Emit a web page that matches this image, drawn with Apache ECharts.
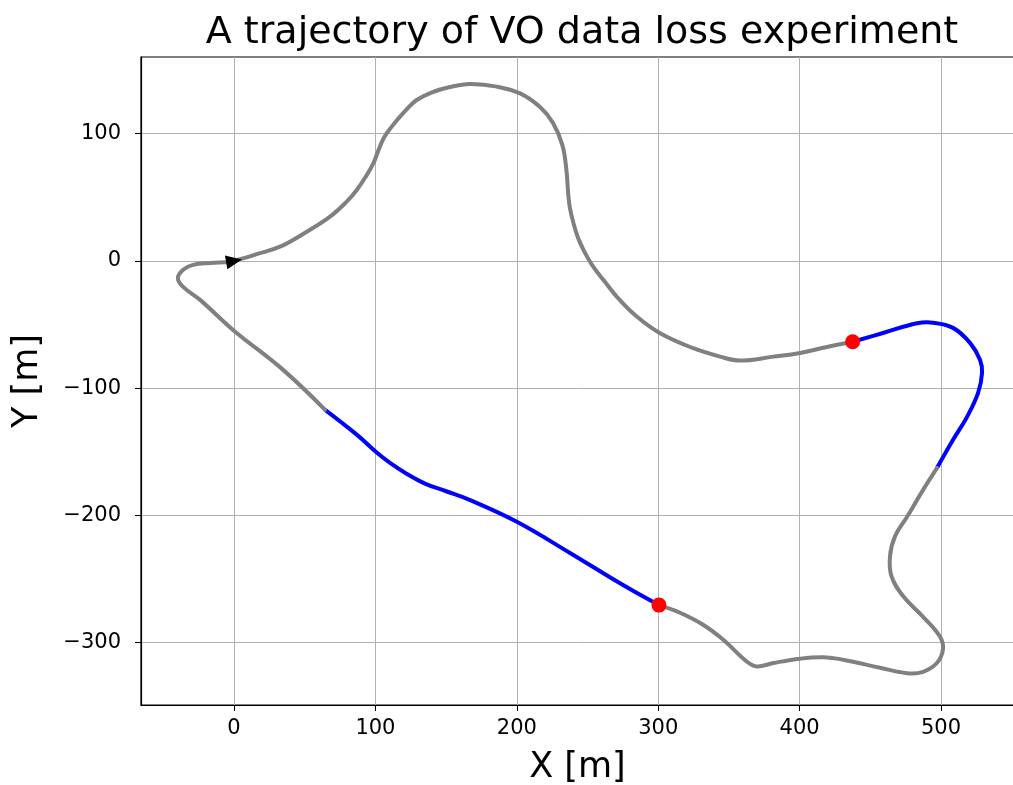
<!DOCTYPE html>
<html>
<head>
<meta charset="utf-8">
<script src="https://cdn.jsdelivr.net/npm/echarts@6/dist/echarts.min.js"></script>
<style>
html,body{margin:0;padding:0;background:#fff;}
#chart{width:1013px;height:785px;}
</style>
</head>
<body>
<div id="chart"></div>
<script>
// Trajectory segments [x, y] in metres
const grayA = [[0,0],[15,5],[32.5,11.2],[50,22],[67.9,34.8],[80,47],[86.8,55.8],[93,66],[98.5,76.7],[102.3,87.5],[106,96.8],[111,104.8],[115.5,111],[122.1,119.2],[129.2,126.5],[140,132.5],[152,136.5],[167,139],[186,137],[202.3,131.7],[216.4,121],[225.6,108.4],[232.2,91],[235,72],[236.5,50.5],[237.6,41.4],[240,30],[243,19],[247,9],[254,-4.5],[262,-16],[270.6,-28],[284.8,-43.7],[301.3,-56.8],[324.8,-68.6],[343.7,-75.2],[357.8,-78.3],[381.4,-75.2],[400.3,-72.3],[419.4,-67.6],[437.5,-63.5]];
const blueA = [[437.5,-63.5],[459,-56.6],[483,-49],[494.3,-48.5],[508.5,-52.6],[520.5,-64.4],[527.6,-77.8],[529,-88],[526.2,-103.7],[518.4,-122.5],[508.5,-140.6],[497.2,-162.6]];
const grayB = [[497.2,-162.6],[487.3,-179.9],[476,-201.1],[467.5,-216.3],[463.9,-232.2],[465,-247.9],[473.3,-263.6],[487.3,-279.7],[499.3,-295.4],[501.4,-305],[497.2,-315.8],[487.3,-322.9],[476,-324],[456.9,-319.7],[430.7,-313.4],[416.5,-311.5],[400.3,-312.6],[381.4,-316],[369.7,-318.7],[362.6,-314.8],[346,-297.7],[331.7,-285.9],[315.4,-276.5],[300.5,-270.5]];
const blueB = [[300.5,-270.5],[285,-261],[270.9,-252],[237.6,-229.5],[200,-205],[167,-188],[150,-181],[135,-175],[122,-167.2],[110.3,-158.7],[101.1,-150.8],[87,-136.7],[64.4,-117]];
const grayC = [[64.4,-117],[34.7,-85.6],[-0.7,-54.2],[-24,-30.6],[-36,-20.4],[-39.7,-13.5],[-36,-7],[-29,-3.1],[-17,-1.6],[-2.8,-0.8],[0,0]];
const lossStarts = [[437.5,-63.5],[300.5,-270.5]];
const startPoint = [[0,0]];
const xTicks = [0,100,200,300,400,500];
const yTicks = [-300,-200,-100,0,100];
const xRange = [-65.8, 551.6];
const yRange = [-349, 160.3];
const titleText = 'A trajectory of VO data loss experiment';
const xName = 'X [m]';
const yName = 'Y [m]';

const FONT = 'DejaVu Sans';
function tickFmt(v){
  return String(Math.round(v)).replace('-', '\u2212');
}
// Smooth path through the series' own data, positioned by the cartesian scales
function pathSeries(data, color){
  return {type:'custom', coordinateSystem:'cartesian2d', data:data, z:2,
    encode:{x:0, y:1}, silent:true,
    renderItem:function(params, api){
      if (params.dataIndexInside !== 0) return null;
      const n = params.dataInsideLength;
      const pts = [];
      for (let i = 0; i < n; i++) {
        pts.push(api.coord([api.value(0, i), api.value(1, i)]));
      }
      return {type:'polyline', shape:{points:pts, smooth:0.4},
        style:{stroke:color, lineWidth:4, fill:null, lineCap:'round', lineJoin:'round'}};
    }};
}
const chart = echarts.init(document.getElementById('chart'), null, {renderer:'canvas'});
chart.setOption({
  animation:false,
  backgroundColor:'#fff',
  title:{text:titleText, left:577, top:9, textAlign:'center',
    textStyle:{fontFamily:FONT, fontSize:38, fontWeight:'normal', color:'#000'}},
  grid:{left:141, right:-1, top:57, bottom:80, outerBoundsMode:'none', containLabel:false,
    show:true, borderColor:'#000', borderWidth:1.2, backgroundColor:'#fff'},
  xAxis:{type:'value', min:xRange[0], max:xRange[1],
    name:xName, nameLocation:'middle', nameGap:45,
    nameTextStyle:{fontFamily:FONT, fontSize:35, color:'#000'},
    axisLine:{show:true, onZero:false, lineStyle:{color:'#000', width:1.2}},
    axisTick:{show:true, length:6, customValues:xTicks, lineStyle:{color:'#000'}},
    axisLabel:{formatter:tickFmt, customValues:xTicks, margin:13, fontFamily:FONT, fontSize:21, color:'#000'},
    splitLine:{show:true, lineStyle:{color:'#b0b0b0', width:1}}},
  yAxis:{type:'value', min:yRange[0], max:yRange[1],
    name:yName, nameLocation:'middle', nameGap:96, nameRotate:90,
    nameTextStyle:{fontFamily:FONT, fontSize:35, color:'#000'},
    axisLine:{show:true, onZero:false, lineStyle:{color:'#000', width:1.2}},
    axisTick:{show:true, length:6, customValues:yTicks, lineStyle:{color:'#000'}},
    axisLabel:{formatter:tickFmt, customValues:yTicks, margin:20, fontFamily:FONT, fontSize:21, color:'#000'},
    splitLine:{show:true, lineStyle:{color:'#b0b0b0', width:1}}},
  series:[
    pathSeries(grayA, '#808080'),
    pathSeries(blueA, '#0000ff'),
    pathSeries(grayB, '#808080'),
    pathSeries(blueB, '#0000ff'),
    pathSeries(grayC, '#808080'),
    {type:'scatter', data:lossStarts, symbol:'circle', symbolSize:15, z:3, itemStyle:{color:'#ff0000', opacity:1}},
    {type:'scatter', data:startPoint, symbol:'triangle', symbolSize:[14,16], symbolRotate:-80, z:4, itemStyle:{color:'#000', opacity:1}}
  ]
});
</script>
</body>
</html>
